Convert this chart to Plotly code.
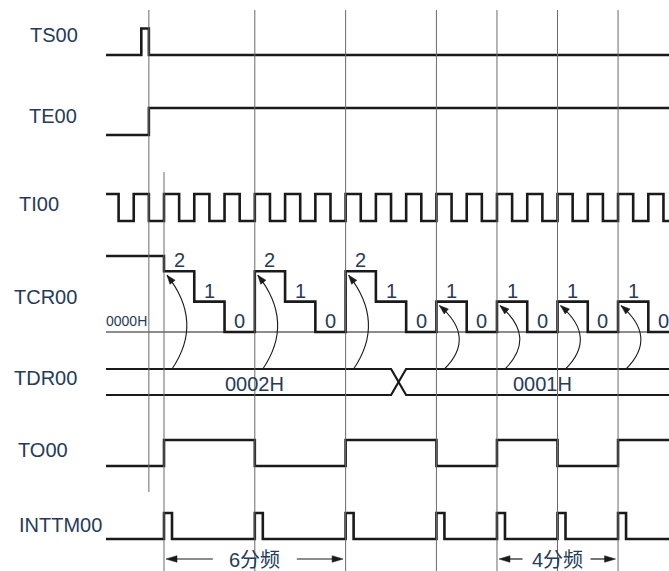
import plotly.graph_objects as go

# ---------------- data (time unit = one TI00 clock period) ----------------
signal_names = ["TS00", "TE00", "TI00", "TCR00", "TDR00", "TO00", "INTTM00"]
ts_pulse = [-0.75, -0.5]            # TS00 high interval
te_rise = -0.5                      # TE00 rising edge
ti_rising = [-1, 0, 1, 2, 3, 4, 5, 6, 7, 8, 9, 10, 11, 12, 13, 14, 15, 16]
tcr_initial = 2.5                   # counter level before start (not labelled)
tcr_start = 0
tcr_counts = [2, 1, 0, 2, 1, 0, 2, 1, 0, 1, 0, 1, 0, 1, 0, 1, 0]
reload_times = [0, 3, 6, 9, 11, 13, 15]
tdr_values = ["0002H", "0001H"]
tdr_change = 7.75
tdr_label_t = [3, 12.5]
to_toggles = [0, 3, 6, 9, 11, 13, 15]
int_pulses = [0, 3, 6, 9, 11, 13, 15]
start_guide = -0.5
div_spans = [(0, 6, "6分频"), (11, 15, "4分频")]
zero_label = "0000H"

# ---------------- layout / style ----------------
W, H = 669, 571
PPT = 30.27          # pixels per TI period
X0 = 164             # pixel of t = 0
def px2t(px):
    return (px - X0) / PPT
def dpx(d):
    return d / PPT
t_min = px2t(106)
t_max = px2t(W)

rows = {  # (low y, high y) in px
    "TS00": (55, 28.5), "TE00": (135, 108), "TI00": (221, 194),
    "TO00": (466, 440), "INTTM00": (539, 513),
}
tcr_zero_y, tcr_step = 332, 30.4
tdr_top, tdr_bot = 369, 395
label_pos = {"TS00": (29, 34.5), "TE00": (28, 115.5), "TI00": (18, 203.5),
             "TCR00": (13, 296.5), "TDR00": (13, 377.5), "TO00": (17, 450),
             "INTTM00": (18, 525)}
SIG = "#1a1a1a"
GUIDE = "#6a6a6a"
TXT = "#243b5a"
FONT = "Liberation Sans, Arial, Noto Sans CJK SC"
FS = 20
SW = 2.6

fig = go.Figure()

def add_line(x, y, shape="hv", width=SW, color=SIG):
    fig.add_trace(go.Scatter(x=x, y=y, mode="lines", line=dict(color=color, width=width, shape=shape),
                             hoverinfo="skip", showlegend=False))

# TS00
lo, hi = rows["TS00"]
add_line([t_min, ts_pulse[0], ts_pulse[1], t_max], [lo, hi, lo, lo])
# TE00
lo, hi = rows["TE00"]
add_line([t_min, te_rise, t_max], [lo, hi, hi])
# TI00
lo, hi = rows["TI00"]
tx, ty = [t_min], [hi]
for r in ti_rising:
    tx += [r - 0.5, r]
    ty += [lo, hi]
tx += [ti_rising[-1] + 0.5, t_max]
ty += [lo, lo]
add_line(tx, ty)
# TCR00 baseline + staircase
def lvl(v):
    return tcr_zero_y - v * tcr_step
add_line([t_min, t_max], [tcr_zero_y, tcr_zero_y], shape="linear", width=1.1)
cx = [t_min] + [tcr_start + i for i in range(len(tcr_counts))] + [t_max]
cy = [lvl(tcr_initial)] + [lvl(v) for v in tcr_counts] + [lvl(tcr_counts[-1])]
add_line(cx, cy)
# TDR00 bus with crossing
h = dpx(7.5)
add_line([t_min, tdr_change - h, tdr_change + h, t_max], [tdr_top, tdr_top, tdr_bot, tdr_bot], shape="linear", width=2.2)
add_line([t_min, tdr_change - h, tdr_change + h, t_max], [tdr_bot, tdr_bot, tdr_top, tdr_top], shape="linear", width=2.2)
# TO00
lo, hi = rows["TO00"]
ox, oy = [t_min], [lo]
state = lo
for t in to_toggles:
    state = hi if state == lo else lo
    ox.append(t); oy.append(state)
ox.append(t_max); oy.append(state)
add_line(ox, oy)
# INTTM00
lo, hi = rows["INTTM00"]
ix, iy = [t_min], [lo]
for p in int_pulses:
    ix += [p, p + dpx(8)]
    iy += [hi, lo]
ix.append(t_max); iy.append(lo)
add_line(ix, iy)

shapes = []
# guide lines
shapes.append(dict(type="line", x0=start_guide, x1=start_guide, y0=10, y1=492,
                   line=dict(color=GUIDE, width=1)))
for t in reload_times:
    y0 = 172 if t == 0 else 10
    shapes.append(dict(type="line", x0=t, x1=t, y0=y0, y1=H, line=dict(color=GUIDE, width=1)))

def tri(tip, dirv, length=9, half=3.3):
    bx, by = tip[0] - dirv[0] * length, tip[1] - dirv[1] * length
    nx, ny = -dirv[1], dirv[0]
    pts = [tip, (bx + nx * half, by + ny * half), (bx - nx * half, by - ny * half)]
    return "M " + " L ".join(f"{px2t(x)},{y}" for x, y in pts) + " Z"

# curved reload arrows
for r in reload_times:
    v = tcr_counts[r - tcr_start]
    rpx = X0 + r * PPT
    p0 = (rpx + 8, tdr_top)
    p2 = (rpx + 3, lvl(v) + 4)
    p1 = (rpx + 40, (p0[1] + p2[1]) / 2)
    path = f"M {px2t(p0[0])},{p0[1]} Q {px2t(p1[0])},{p1[1]} {px2t(p2[0])},{p2[1]}"
    shapes.append(dict(type="path", path=path, line=dict(color=SIG, width=1.1)))
    dx, dy = p2[0] - p1[0], p2[1] - p1[1]
    n = (dx * dx + dy * dy) ** 0.5
    shapes.append(dict(type="path", path=tri(p2, (dx / n, dy / n)), fillcolor=SIG,
                       line=dict(color=SIG, width=0.5)))

annotations = []
def text(x, y, s, size=FS, xanchor="center", xref="x"):
    annotations.append(dict(x=x, y=y, xref=xref, yref="y", text=s, showarrow=False,
                            xanchor=xanchor, yanchor="middle",
                            font=dict(family=FONT, size=size, color=TXT)))

# division spans
span_gap = {"6分频": (42, 42), "4分频": (35, 33)}
dim_y = 559
for a, b, s in div_spans:
    apx, bpx = X0 + a * PPT, X0 + b * PPT
    cpx = (apx + bpx) / 2
    gl, gr = span_gap[s]
    shapes.append(dict(type="line", x0=px2t(apx + 10), x1=px2t(cpx - gl), y0=dim_y, y1=dim_y,
                       line=dict(color=SIG, width=1.2)))
    shapes.append(dict(type="line", x0=px2t(cpx + gr), x1=px2t(bpx - 12), y0=dim_y, y1=dim_y,
                       line=dict(color=SIG, width=1.2)))
    shapes.append(dict(type="path", path=tri((apx + 2, dim_y), (-1, 0), 11, 3.3), fillcolor=SIG,
                       line=dict(color=SIG, width=0.5)))
    shapes.append(dict(type="path", path=tri((bpx - 2.5, dim_y), (1, 0), 11, 3.3), fillcolor=SIG,
                       line=dict(color=SIG, width=0.5)))
    text((a + b) / 2, 560, s)

# signal names
for name in signal_names:
    lx, ly = label_pos[name]
    text((lx - 1.5) / W, ly, name, xanchor="left", xref="paper")
# counter value labels
for i, v in enumerate(tcr_counts):
    text(tcr_start + i + 0.5, lvl(v) - 11, str(v))
text((104) / W, 321, zero_label, size=14, xanchor="left", xref="paper")
# TDR values
for t, s in zip(tdr_label_t, tdr_values):
    text(t, 383.5, s)

fig.update_layout(
    width=W, height=H, margin=dict(l=0, r=0, t=0, b=0),
    paper_bgcolor="white", plot_bgcolor="white",
    xaxis=dict(range=[px2t(0), px2t(W)], visible=False, fixedrange=True),
    yaxis=dict(range=[H, 0], visible=False, fixedrange=True),
    shapes=shapes, annotations=annotations,
)
fig.write_html("out.html", config={"displayModeBar": False},
               post_script="document.body.style.margin='0';")
